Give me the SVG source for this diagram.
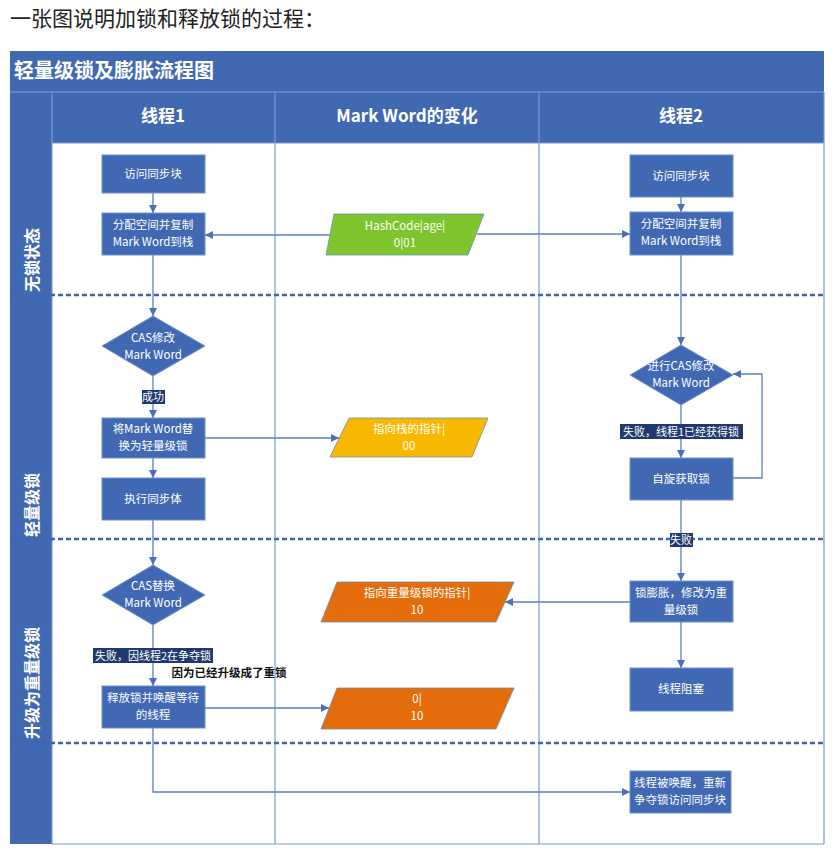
<svg xmlns="http://www.w3.org/2000/svg" width="836" height="868" viewBox="0 0 836 868">
<defs>
<style>
.cn{font-family:"Noto Sans CJK SC","Noto Sans",sans-serif}
.box{fill:#4169B3;stroke:#6E92D2;stroke-width:1}
.nt{font-family:"Noto Sans CJK SC","Noto Sans",sans-serif;font-size:11.5px;fill:#FFFFFF;text-anchor:middle}
.ln{fill:none;stroke:#5A7EC2;stroke-width:1.3}
.dash{stroke:#3D65B0;stroke-width:2.6;stroke-dasharray:5 3}
.grid{stroke:#7C9AD0;stroke-width:1.2;fill:none}
.lbg{fill:#1E3A6E}
.lt{font-family:"Noto Sans CJK SC","Noto Sans",sans-serif;font-size:11px;fill:#FFFFFF;text-anchor:middle}
.band{font-family:"Noto Sans CJK SC","Noto Sans",sans-serif;font-size:16px;font-weight:bold;fill:#FFFFFF;text-anchor:middle;dominant-baseline:central}
.hd{font-family:"Noto Sans CJK SC","Noto Sans",sans-serif;font-size:17px;font-weight:bold;fill:#FFFFFF;text-anchor:middle}
</style>
<marker id="ah" viewBox="0 0 10 10" refX="10" refY="5" markerWidth="8" markerHeight="8" markerUnits="userSpaceOnUse" orient="auto">
<path d="M0,0 L10,5 L0,10 z" fill="#4A70B8"/>
</marker>
</defs>
<rect width="836" height="868" fill="#FFFFFF"/>
<text x="10" y="26" class="cn" font-size="21" fill="#222222">一张图说明加锁和释放锁的过程：</text>

<g id="frame">
<rect x="10" y="51" width="814" height="793" fill="#4169B2"/>
<rect x="52" y="143" width="772" height="701" fill="#FFFFFF"/>
<line x1="10" y1="92" x2="824" y2="92" class="grid"/>
<line x1="52" y1="92" x2="52" y2="844" class="grid"/>
<line x1="275" y1="92" x2="275" y2="844" class="grid"/>
<line x1="539" y1="92" x2="539" y2="844" class="grid"/>
<line x1="824" y1="92" x2="824" y2="844" class="grid"/>
<line x1="52" y1="143" x2="824" y2="143" class="grid"/>
<line x1="52" y1="844" x2="824" y2="844" class="grid"/>
<text x="14" y="78" class="cn" font-size="20" font-weight="bold" fill="#FFFFFF">轻量级锁及膨胀流程图</text>
<text x="163" y="122" class="hd">线程1</text>
<text x="407" y="122" class="hd">Mark Word的变化</text>
<text x="681" y="122" class="hd">线程2</text>
<text x="31" y="260" class="band" transform="rotate(-90 31 260)">无锁状态</text>
<text x="31" y="505" class="band" transform="rotate(-90 31 505)">轻量级锁</text>
<text x="31" y="683" class="band" transform="rotate(-90 31 683)">升级为重量级锁</text>
<line x1="10" y1="295" x2="824" y2="295" class="dash"/>
<line x1="10" y1="539" x2="824" y2="539" class="dash"/>
<line x1="10" y1="743" x2="824" y2="743" class="dash"/>
</g>

<g id="connectors">
<line x1="153" y1="193" x2="153" y2="213" class="ln" marker-end="url(#ah)"/>
<line x1="332" y1="235" x2="205" y2="235" class="ln" marker-end="url(#ah)"/>
<line x1="477" y1="234" x2="630" y2="234" class="ln" marker-end="url(#ah)"/>
<line x1="153" y1="255" x2="153" y2="316" class="ln" marker-end="url(#ah)"/>
<line x1="153" y1="376" x2="153" y2="418" class="ln" marker-end="url(#ah)"/>
<line x1="205" y1="438" x2="339" y2="438" class="ln" marker-end="url(#ah)"/>
<line x1="153" y1="458" x2="153" y2="478" class="ln" marker-end="url(#ah)"/>
<line x1="153" y1="520" x2="153" y2="565" class="ln" marker-end="url(#ah)"/>
<line x1="153" y1="625" x2="153" y2="686" class="ln" marker-end="url(#ah)"/>
<line x1="205" y1="708" x2="329" y2="708" class="ln" marker-end="url(#ah)"/>
<polyline points="153,728 153,792 630,792" class="ln" marker-end="url(#ah)"/>
<line x1="681" y1="197" x2="681" y2="212" class="ln" marker-end="url(#ah)"/>
<line x1="681" y1="255" x2="681" y2="345" class="ln" marker-end="url(#ah)"/>
<line x1="681" y1="405" x2="681" y2="458" class="ln" marker-end="url(#ah)"/>
<polyline points="733,478 762,478 762,374 733,374" class="ln" marker-end="url(#ah)"/>
<line x1="681" y1="500" x2="681" y2="581" class="ln" marker-end="url(#ah)"/>
<line x1="630" y1="602" x2="505" y2="602" class="ln" marker-end="url(#ah)"/>
<line x1="681" y1="622" x2="681" y2="668" class="ln" marker-end="url(#ah)"/>
<g id="label-success">
<rect x="142" y="390" width="23" height="14" class="lbg"/>
<text x="153" y="401" class="lt">成功</text>
</g>
<g id="label-fail-t2">
<rect x="620" y="424" width="123" height="15" class="lbg"/>
<text x="681" y="436" class="lt">失败，线程1已经获得锁</text>
</g>
<g id="label-fail2">
<rect x="670" y="533" width="23" height="14" class="lbg"/>
<text x="681" y="544" class="lt">失败</text>
</g>
<g id="label-fail-t1">
<rect x="93" y="648" width="120" height="15" class="lbg"/>
<text x="153" y="660" class="lt">失败，因线程2在争夺锁</text>
</g>
<text x="229" y="677" class="cn" font-size="11.5" font-weight="bold" fill="#111111" text-anchor="middle">因为已经升级成了重锁</text>
</g>

<g id="t1-access">
<rect x="102" y="155" width="103" height="38" class="box"/>
<text x="153" y="178" class="nt">访问同步块</text>
</g>
<g id="t1-copy">
<rect x="102" y="213" width="103" height="42" class="box"/>
<text x="153" y="229" class="nt">分配空间并复制</text>
<text x="153" y="246" class="nt">Mark Word到栈</text>
</g>
<g id="t1-cas">
<polygon points="153,316 205,346 153,376 102,346" class="box"/>
<text x="153" y="342" class="nt">CAS修改</text>
<text x="153" y="359" class="nt">Mark Word</text>
</g>
<g id="t1-replace">
<rect x="102" y="418" width="103" height="40" class="box"/>
<text x="153" y="433" class="nt">将Mark Word替</text>
<text x="153" y="450" class="nt">换为轻量级锁</text>
</g>
<g id="t1-exec">
<rect x="102" y="478" width="103" height="42" class="box"/>
<text x="153" y="503" class="nt">执行同步体</text>
</g>
<g id="t1-cas2">
<polygon points="153,565 205,595 153,625 102,595" class="box"/>
<text x="153" y="590" class="nt">CAS替换</text>
<text x="153" y="607" class="nt">Mark Word</text>
</g>
<g id="t1-release">
<rect x="102" y="686" width="103" height="42" class="box"/>
<text x="153" y="702" class="nt">释放锁并唤醒等待</text>
<text x="153" y="719" class="nt">的线程</text>
</g>

<g id="mw-hash">
<polygon points="334,214 484,214 468,255 326,255" fill="#7EC42C" stroke="#6A8FB0" stroke-width="0.8"/>
<text x="405" y="230" class="nt">HashCode|age|</text>
<text x="405" y="247" class="nt">0|01</text>
</g>
<g id="mw-stack">
<polygon points="349,418 488,418 472,457 330,457" fill="#F8B800" stroke="#6A8FB0" stroke-width="0.8"/>
<text x="409" y="433" class="nt" fill="#FFF6D6">指向栈的指针|</text>
<text x="409" y="450" class="nt" fill="#FFF6D6">00</text>
</g>
<g id="mw-heavy">
<polygon points="337,582 514,582 496,622 321,622" fill="#E46C0A" stroke="#6A8FB0" stroke-width="0.8"/>
<text x="417" y="597" class="nt">指向重量级锁的指针|</text>
<text x="417" y="614" class="nt">10</text>
</g>
<g id="mw-release">
<polygon points="337,688 514,688 496,729 321,729" fill="#E46C0A" stroke="#6A8FB0" stroke-width="0.8"/>
<text x="417" y="703" class="nt">0|</text>
<text x="417" y="720" class="nt">10</text>
</g>

<g id="t2-access">
<rect x="630" y="155" width="103" height="42" class="box"/>
<text x="681" y="180" class="nt">访问同步块</text>
</g>
<g id="t2-copy">
<rect x="630" y="212" width="103" height="43" class="box"/>
<text x="681" y="228" class="nt">分配空间并复制</text>
<text x="681" y="245" class="nt">Mark Word到栈</text>
</g>
<g id="t2-cas">
<polygon points="681,345 733,375 681,405 630,375" class="box"/>
<text x="681" y="370" class="nt">进行CAS修改</text>
<text x="681" y="387" class="nt">Mark Word</text>
</g>
<g id="t2-spin">
<rect x="630" y="458" width="103" height="42" class="box"/>
<text x="681" y="483" class="nt">自旋获取锁</text>
</g>
<g id="t2-inflate">
<rect x="630" y="581" width="103" height="41" class="box"/>
<text x="681" y="597" class="nt">锁膨胀，修改为重</text>
<text x="681" y="614" class="nt">量级锁</text>
</g>
<g id="t2-block">
<rect x="630" y="668" width="103" height="43" class="box"/>
<text x="681" y="693" class="nt">线程阻塞</text>
</g>
<g id="t2-wake">
<rect x="630" y="771" width="101" height="42" class="box"/>
<text x="680" y="787" class="nt">线程被唤醒，重新</text>
<text x="680" y="804" class="nt">争夺锁访问同步块</text>
</g>
</svg>
